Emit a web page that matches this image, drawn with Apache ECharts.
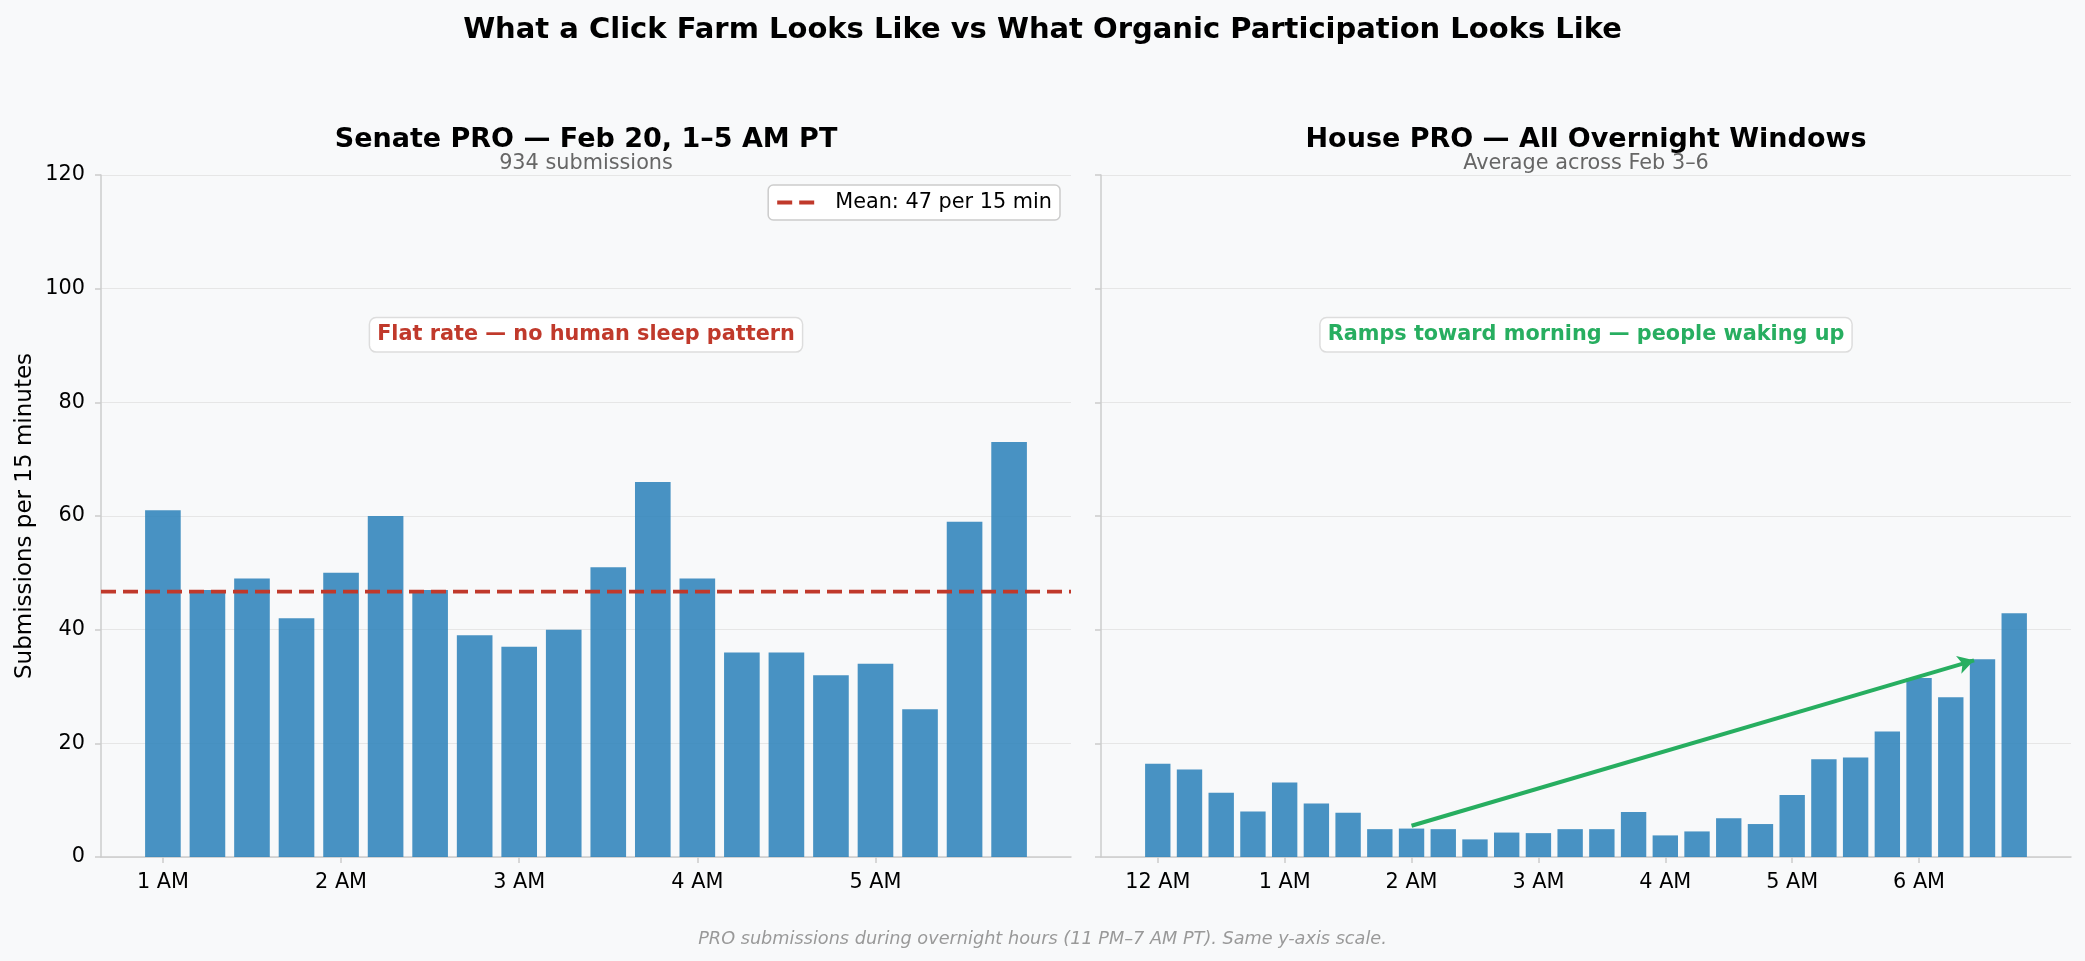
<!DOCTYPE html>
<html>
<head>
<meta charset="utf-8">
<title>Click Farm vs Organic Participation</title>
<script src="https://cdn.jsdelivr.net/npm/echarts@6/dist/echarts.min.js"></script>
<style>
  html, body { margin: 0; padding: 0; background: #f8f9fa; }
  #chart { width: 2085px; height: 961px; }
</style>
</head>
<body>
<div id="chart"></div>
<script>
// ---------------- DATA ----------------
const senateTimes = ['1:00','1:15','1:30','1:45','2:00','2:15','2:30','2:45','3:00','3:15',
                     '3:30','3:45','4:00','4:15','4:30','4:45','5:00','5:15','5:30','5:45'];
const senateCounts = [61, 47, 49, 42, 50, 60, 47, 39, 37, 40,
                      51, 66, 49, 36, 36, 32, 34, 26, 59, 73];

const houseTimes = ['12:00','12:15','12:30','12:45','1:00','1:15','1:30','1:45',
                    '2:00','2:15','2:30','2:45','3:00','3:15','3:30','3:45',
                    '4:00','4:15','4:30','4:45','5:00','5:15','5:30','5:45',
                    '6:00','6:15','6:30','6:45'];
const houseAvg = [16.4, 15.4, 11.3, 8.0, 13.1, 9.4, 7.8, 4.9,
                  5.0, 4.9, 3.1, 4.3, 4.2, 4.9, 4.9, 7.9,
                  3.8, 4.5, 6.8, 5.8, 10.9, 17.2, 17.5, 22.1,
                  31.5, 28.1, 34.8, 42.9];

const senateTickHours = [1, 2, 3, 4, 5];
const senateTickLabels = ['1 AM', '2 AM', '3 AM', '4 AM', '5 AM'];
const houseTickHours = [0, 1, 2, 3, 4, 5, 6];
const houseTickLabels = ['12 AM', '1 AM', '2 AM', '3 AM', '4 AM', '5 AM', '6 AM'];

// trend arrow (time, value) start and end
const trendFrom = ['2:00', 5.5];
const trendTo = ['6:26', 34.6];

// ---------------- HELPERS ----------------
function toHours(t) {
  const [h, m] = t.split(':').map(Number);
  return (h === 12 ? 0 : h) + m / 60;
}
const STEP = 0.25; // 15 minutes in hours
function axisRange(times) {
  const xs = times.map(toHours);
  const lo = Math.min(...xs) - 0.4 * STEP;
  const hi = Math.max(...xs) + 0.4 * STEP;
  const pad = 0.05 * (hi - lo);
  return [lo - pad, hi + pad];
}

const W = 2085, H = 961;
const gridL = { left: 101, right: 1014, top: 175, bottom: 104 };
const gridR = { left: 1101, right: 14, top: 175, bottom: 104 };
const gridLW = W - gridL.left - gridL.right;
const gridRW = W - gridR.left - gridR.right;
const rangeL = axisRange(senateTimes);
const rangeR = axisRange(houseTimes);
const barWL = 0.8 * STEP * gridLW / (rangeL[1] - rangeL[0]);
const barWR = 0.8 * STEP * gridRW / (rangeR[1] - rangeR[0]);

const mean = senateCounts.reduce((a, b) => a + b, 0) / senateCounts.length;
const meanName = 'Mean: ' + Math.round(mean) + ' per 15 min';

const FONT = '"DejaVu Sans", "Liberation Sans", sans-serif';
const BAR = '#2980b9';
const RED = '#c0392b';
const GREEN = '#27ae60';
const AXIS = '#cccccc';
const GRID = '#e6e6e6';

function xAxisCfg(idx, range, tickHours, tickLabels) {
  return {
    type: 'value', gridIndex: idx, min: range[0], max: range[1],
    axisLine: { show: true, onZero: false, lineStyle: { color: AXIS, width: 1.5 } },
    axisTick: { show: true, customValues: tickHours, length: 6, lineStyle: { color: AXIS, width: 1.5 } },
    axisLabel: {
      customValues: tickHours, fontFamily: FONT, fontSize: 20.8, color: '#000', margin: 15,
      formatter: v => tickLabels[tickHours.findIndex(t => Math.abs(t - v) < 1e-6)] || ''
    },
    splitLine: { show: false }
  };
}
function yAxisCfg(idx, showLabels) {
  const cfg = {
    type: 'value', gridIndex: idx, min: 0, max: 120, interval: 20,
    axisLine: { show: true, onZero: false, lineStyle: { color: AXIS, width: 1.5 } },
    axisTick: { show: true, length: 6, lineStyle: { color: AXIS, width: 1.5 } },
    axisLabel: { show: showLabels, fontFamily: FONT, fontSize: 20.8, color: '#000', margin: 16 },
    splitLine: { show: true, lineStyle: { color: GRID, width: 1.2 } }
  };
  if (showLabels) {
    cfg.name = 'Submissions per 15 minutes';
    cfg.nameLocation = 'middle';
    cfg.nameGap = 64;
    cfg.nameTextStyle = { fontFamily: FONT, fontSize: 23, color: '#000' };
  }
  return cfg;
}

const chart = echarts.init(document.getElementById('chart'), null, { renderer: 'canvas', width: W, height: H });

const cxL = gridL.left + gridLW / 2;
const cxR = gridR.left + gridRW / 2;
const annY = gridL.top + (H - gridL.top - gridL.bottom) * (1 - 0.77) + 3;

function txt(x, y, text, font, fill, extra) {
  return {
    type: 'text', x: x, y: y, silent: true,
    style: Object.assign({ text: text, font: font, fill: fill, align: 'center', verticalAlign: 'middle' }, extra || {})
  };
}

const option = {
  backgroundColor: '#f8f9fa',
  animation: false,
  title: [{
    text: 'What a Click Farm Looks Like vs What Organic Participation Looks Like',
    left: 'center', top: 16, padding: 0,
    textStyle: { fontFamily: FONT, fontSize: 29, fontWeight: 'bold', color: '#000' }
  }],
  legend: {
    data: [{ name: meanName, icon: 'path://M0,0h15v4h-15z M22,0h15v4h-15z' }],
    right: W - 1060, top: 185,
    orient: 'vertical',
    backgroundColor: '#ffffff', borderColor: '#cccccc', borderWidth: 1.5, borderRadius: 5,
    padding: [7, 8, 7, 9],
    itemWidth: 37, itemHeight: 4,
    textStyle: { fontFamily: FONT, fontSize: 20.8, color: '#000', padding: [0, 0, 0, 16] }
  },
  grid: [
    Object.assign({ containLabel: false }, gridL),
    Object.assign({ containLabel: false }, gridR)
  ],
  xAxis: [
    xAxisCfg(0, rangeL, senateTickHours, senateTickLabels),
    xAxisCfg(1, rangeR, houseTickHours, houseTickLabels)
  ],
  yAxis: [yAxisCfg(0, true), yAxisCfg(1, false)],
  series: [
    {
      name: 'Senate PRO', type: 'bar', xAxisIndex: 0, yAxisIndex: 0,
      barWidth: barWL,
      itemStyle: { color: BAR, opacity: 0.85 },
      data: senateTimes.map((t, i) => [toHours(t), senateCounts[i]]),
      silent: true
    },
    {
      name: meanName, type: 'line', xAxisIndex: 0, yAxisIndex: 0,
      symbol: 'none', showSymbol: false,
      lineStyle: { color: RED, width: 3.75, type: [15, 7] },
      itemStyle: { color: RED },
      data: [[rangeL[0], mean], [rangeL[1], mean]],
      silent: true, z: 5
    },
    {
      name: 'House PRO', type: 'bar', xAxisIndex: 1, yAxisIndex: 1,
      barWidth: barWR,
      itemStyle: { color: BAR, opacity: 0.85 },
      data: houseTimes.map((t, i) => [toHours(t), houseAvg[i]]),
      silent: true,
      markLine: {
        silent: true, animation: false,
        symbol: ['none', 'arrow'], symbolSize: [14, 16],
        label: { show: false },
        lineStyle: { color: GREEN, width: 4, type: 'solid' },
        data: [[
          { coord: [toHours(trendFrom[0]), trendFrom[1]] },
          { coord: [toHours(trendTo[0]), trendTo[1]] }
        ]]
      }
    }
  ],
  graphic: [
    txt(cxL, 140, 'Senate PRO — Feb 20, 1–5 AM PT', 'bold 27px ' + FONT, '#000'),
    txt(cxL, 164, '934 submissions', '20.8px ' + FONT, '#666666'),
    txt(cxR, 140, 'House PRO — All Overnight Windows', 'bold 27px ' + FONT, '#000'),
    txt(cxR, 164, 'Average across Feb 3–6', '20.8px ' + FONT, '#666666'),
    txt(cxL, annY, 'Flat rate — no human sleep pattern', 'bold 20.8px ' + FONT, RED,
        { backgroundColor: '#ffffff', borderColor: '#dddddd', borderWidth: 1.5, borderRadius: 6, padding: [6, 7] }),
    txt(cxR, annY, 'Ramps toward morning — people waking up', 'bold 20.8px ' + FONT, GREEN,
        { backgroundColor: '#ffffff', borderColor: '#dddddd', borderWidth: 1.5, borderRadius: 6, padding: [6, 7] }),
    txt(W / 2, 939, 'PRO submissions during overnight hours (11 PM–7 AM PT). Same y-axis scale.',
        'italic 17.7px ' + FONT, '#999999')
  ]
};
chart.setOption(option);
</script>
</body>
</html>
